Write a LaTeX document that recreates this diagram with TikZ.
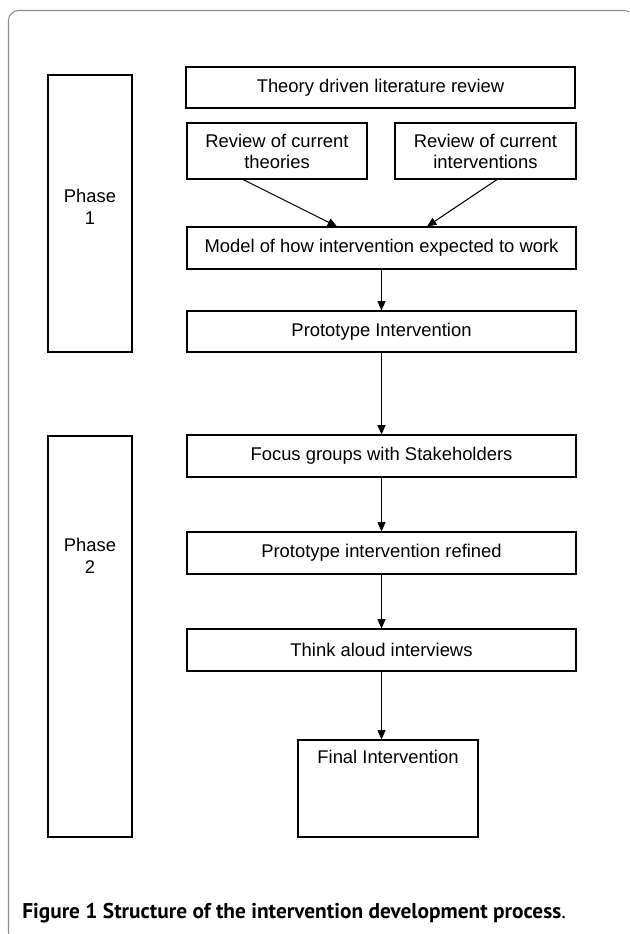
\documentclass[tikz,border=0pt]{standalone}
\usepackage{fontspec}
\setmainfont{Liberation Sans}
\newfontfamily\capfont{PT Sans}
\usetikzlibrary{arrows.meta}
\def\px{0.75pt}
\tikzset{
  box/.style={draw=black, line width=0.8pt, rectangle, inner sep=0pt, align=center,
    font=\fontsize{13.8pt}{15.8pt}\selectfont},
  lbl/.style={inner sep=0pt, align=center, font=\fontsize{13.8pt}{16.5pt}\selectfont},
  arr/.style={draw=black, line width=0.8pt, -{Triangle[length=7pt,width=6pt]}},
  frame/.style={draw=gray!90, line width=0.8pt, rounded corners=7.5pt}
}
\begin{document}
\begin{tikzpicture}[x=0.75pt,y=-0.75pt]
\useasboundingbox (0,0) rectangle (629,934);
\begin{scope}
  \clip (0,0) rectangle (629,934);
  \draw[frame] (8.5,10.5) rectangle (634,942);
\end{scope}

% phase boxes
\node[box, minimum width=84*\px, minimum height=277*\px] (phase1) at (90,213.5) {};
\node[lbl] (phase1t) at (90,207) {Phase\\1};
\node[box, minimum width=84*\px, minimum height=401*\px] (phase2) at (90,636.5) {};
\node[lbl] (phase2t) at (90,556) {Phase\\2};

% main boxes
\node[box, minimum width=389*\px, minimum height=41*\px] (theory) at (380.5,87.5) {Theory driven literature review};
\node[box, minimum width=180*\px, minimum height=56*\px] (theories) at (277,151) {Review of current\\theories};
\node[box, minimum width=181*\px, minimum height=56*\px] (interv) at (485.5,151) {Review of current\\interventions};
\node[box, minimum width=389*\px, minimum height=42*\px] (model) at (381.5,248) {Model of how intervention expected to work};
\node[box, minimum width=389*\px, minimum height=41*\px] (proto) at (381.5,331.5) {Prototype Intervention};
\node[box, minimum width=389*\px, minimum height=42*\px] (focus) at (381.5,456) {Focus groups with Stakeholders};
\node[box, minimum width=389*\px, minimum height=42*\px] (refined) at (381.5,553) {Prototype intervention refined};
\node[box, minimum width=389*\px, minimum height=42*\px] (think) at (381.5,650) {Think aloud interviews};
\node[box, minimum width=180*\px, minimum height=97*\px] (final) at (388,788.5) {};
\node[lbl] (finalt) at (388,757) {Final Intervention};

% connectors
\draw[arr] ([xshift=-34*\px]theories.south) -- ([xshift=-44.5*\px]model.north);
\draw[arr] ([xshift=11.5*\px]interv.south) -- ([xshift=45.5*\px]model.north);
\draw[arr] (model.south) -- (proto.north);
\draw[arr] (proto.south) -- (focus.north);
\draw[arr] (focus.south) -- (refined.north);
\draw[arr] (refined.south) -- (think.north);
\draw[arr] (think.south) -- (think.south |- final.north);

% caption
\node[anchor=base west, inner sep=0pt, font=\capfont\fontsize{16pt}{18pt}\selectfont] (caption) at (22,918)
  {\textbf{Figure 1 Structure of the intervention development process}.};
\end{tikzpicture}
\end{document}
